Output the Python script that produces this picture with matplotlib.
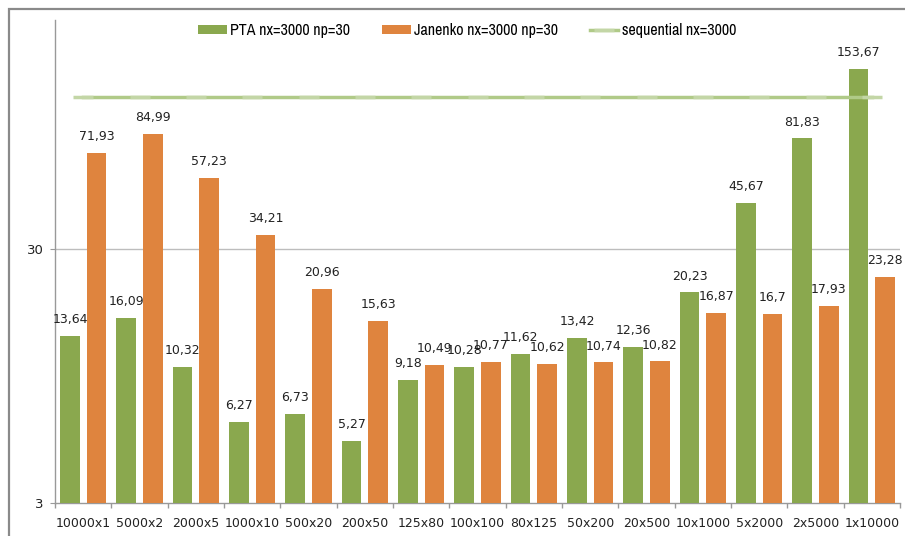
import matplotlib
matplotlib.use("Agg")
import matplotlib.pyplot as plt
import numpy as np
from matplotlib.patches import Rectangle
from matplotlib import font_manager as fm

categories = ["10000x1", "5000x2", "2000x5", "1000x10", "500x20", "200x50", "125x80",
              "100x100", "80x125", "50x200", "20x500", "10x1000", "5x2000", "2x5000", "1x10000"]
pta = [13.64, 16.09, 10.32, 6.27, 6.73, 5.27, 9.18, 10.28, 11.62, 13.42, 12.36, 20.23, 45.67, 81.83, 153.67]
janenko = [71.93, 84.99, 57.23, 34.21, 20.96, 15.63, 10.49, 10.77, 10.62, 10.74, 10.82, 16.87, 16.7, 17.93, 23.28]
sequential = [119.0] * len(categories)

GREEN = "#8aa84e"
ORANGE = "#df843e"
SEQ = "#b0ca88"


def narrow_font(size_narrow, size_plain):
    """Prefer a condensed sans face; otherwise shrink DejaVu Sans."""
    for f in fm.fontManager.ttflist:
        if "Narrow" in f.name or "Condensed" in f.name:
            return fm.FontProperties(family=f.name, size=size_narrow)
    for f in fm.fontManager.ttflist:
        if f.name == "DejaVu Sans" and f.stretch in ("condensed", "semi-condensed"):
            return fm.FontProperties(family="DejaVu Sans", stretch="condensed", size=size_narrow)
    return fm.FontProperties(family="DejaVu Sans", size=size_plain)


W, H = 905, 536
fig = plt.figure(figsize=(W / 100, H / 100), dpi=100)
ax = fig.add_axes([55 / W, 1 - 503 / H, 845 / W, (503 - 20) / H])

x = np.arange(len(categories))
bw = 0.35
off = 0.235
b1 = ax.bar(x - off, pta, bw, color=GREEN, label="PTA nx=3000 np=30", zorder=3)
b2 = ax.bar(x + off, janenko, bw, color=ORANGE, label="Janenko nx=3000 np=30", zorder=3)
(l1,) = ax.plot(x, sequential, color=SEQ, lw=2.5, marker="_", ms=14, mew=2.5,
                mec="#c3d6a6", label="sequential nx=3000", zorder=4)

def fmt(v):
    return f"{v:g}".replace(".", ",")

for bars, vals in ((b1, pta), (b2, janenko)):
    for r, v in zip(bars, vals):
        ax.annotate(fmt(v), (r.get_x() + r.get_width() / 2, v), xytext=(0, 7),
                    textcoords="offset points", ha="center", va="bottom",
                    fontsize=9, color="#222222", family="DejaVu Sans")

ax.set_yscale("log")
ax.set_ylim(3, 3 * 10 ** ((503 - 20) / 254))
ax.set_yticks([3, 30])
ax.set_yticklabels(["3", "30"])
ax.yaxis.set_minor_locator(matplotlib.ticker.NullLocator())
ax.axhline(30, color="#bdbdbd", lw=1, zorder=1)

ax.set_xlim(-0.5, len(categories) - 0.5)
ax.set_xticks(x)
ax.set_xticklabels(categories)
ax.set_xticks(np.arange(-0.5, len(categories)), minor=True)
ax.tick_params(axis="x", which="major", length=0, pad=10, labelsize=9, colors="#222222")
ax.tick_params(axis="x", which="minor", length=3.6, color="#999999", width=1)
ax.tick_params(axis="y", length=3.6, color="#999999", labelsize=9.5, pad=4.5, labelcolor="#222222")

for s in ("top", "right"):
    ax.spines[s].set_visible(False)
for s in ("left", "bottom"):
    ax.spines[s].set_color("#999999")
    ax.spines[s].set_linewidth(1)

leg_font = narrow_font(11.5, 8.2)
fig.legend(handles=[b1, b2, l1], loc="center", bbox_to_anchor=(0.516, 1 - 31 / H), ncol=3,
           frameon=False, prop=leg_font, handlelength=1.8, handleheight=0.5,
           columnspacing=2.0, handletextpad=0.2)

fig.patches.append(Rectangle((9 / W, -0.1), 1.2, 1 - 9 / H + 0.1, transform=fig.transFigure,
                             fill=False, edgecolor="#8a8a8a", lw=1.6, zorder=0))

fig.savefig("out.png", dpi=100)
